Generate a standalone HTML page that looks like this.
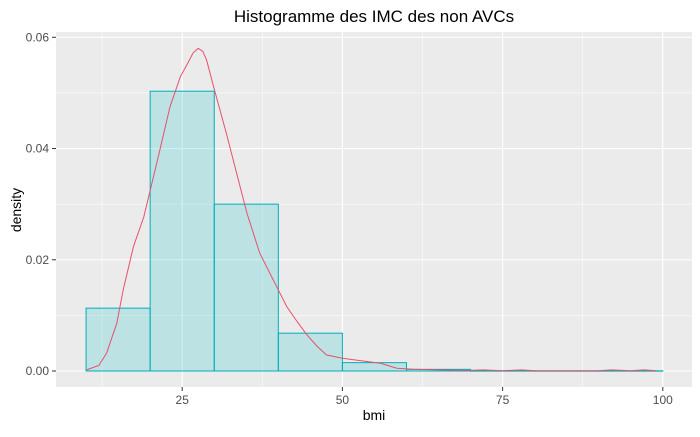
<!DOCTYPE html>
<html><head><meta charset="utf-8"><style>
body{margin:0;background:#fff;font-family:"Liberation Sans",sans-serif}
</style></head><body>
<svg id="chart" width="700" height="432" xmlns="http://www.w3.org/2000/svg">
<text x="374" y="22" text-anchor="middle" font-size="17" fill="#000">Histogramme des IMC des non AVCs</text>
<rect x="56" y="32" width="636" height="355" fill="#EBEBEB"/>
<g id="grid"></g>
<g id="bars"></g>
<path id="dens" fill="none" stroke="#E8506A" stroke-width="1"/>
<g id="axes" font-size="12" fill="#4D4D4D"></g>
<text x="374" y="420" text-anchor="middle" font-size="14">bmi</text>
<text transform="translate(21,210) rotate(-90)" text-anchor="middle" font-size="14">density</text>
</svg>
<script>
const binStarts=[10,20,30,40,50,60,70,80,90];
const binDensity=[0.0113,0.0503,0.030,0.0068,0.0015,0.0003,0.00003,0.00002,0.00003];
const densX=[10.1,12,13.2,14.8,15.8,17.4,19.0,20.0,21.5,23.1,24.7,25.7,26.7,27.5,28.2,28.8,29.9,31.9,33.5,35.1,37.1,39.2,41.3,43,44.4,46,47.5,50,53.8,55.9,58.5,61,65,70,72,75,78,80,85,90,92,95,97,99];
const densY=[0.0002,0.001,0.0032,0.0086,0.0146,0.0224,0.0277,0.0325,0.0397,0.0475,0.0529,0.055,0.0572,0.058,0.0575,0.0559,0.0511,0.0427,0.0355,0.0284,0.0212,0.0164,0.0116,0.0088,0.0066,0.0045,0.0029,0.0023,0.0017,0.0014,0.0005,0.0003,0.0002,0.0001,0.0002,0.00005,0.0002,0.00005,0.00003,0.00005,0.0002,0.00003,0.0002,0.00003];
const xTicks=[25,50,75,100];
const yTicks=[0,0.02,0.04,0.06];
const binW=10;
const sx=v=>22+v*6.408;
const sy=v=>371-v*5562;
const NS="http://www.w3.org/2000/svg";
const mk=(t,a,p)=>{const e=document.createElementNS(NS,t);for(const k in a)e.setAttribute(k,a[k]);p.appendChild(e);return e;};
const grid=document.getElementById('grid');
[12.5,37.5,62.5,87.5].forEach(v=>{const l=mk('line',{x1:sx(v),x2:sx(v),y1:32,y2:387,stroke:'#fff','stroke-width':0.5},grid);

});
[0.01,0.03,0.05].forEach(v=>{const l=mk('line',{y1:sy(v),y2:sy(v),x1:56,x2:692,stroke:'#fff','stroke-width':0.5},grid);

});
xTicks.forEach(v=>{const l=mk('line',{x1:sx(v),x2:sx(v),y1:32,y2:387,stroke:'#fff','stroke-width':1.1},grid);

});
yTicks.forEach(v=>{const l=mk('line',{y1:sy(v),y2:sy(v),x1:56,x2:692,stroke:'#fff','stroke-width':1.1},grid);

});
const bars=document.getElementById('bars');
binStarts.forEach((b,i)=>{const y=sy(binDensity[i]);
const r=mk('rect',{x:sx(b),y:y,width:sx(b+binW)-sx(b),height:Math.max(sy(0)-y,0.3),fill:'rgba(0,191,196,0.2)',stroke:'#00AFBB','stroke-width':1},bars);

});
document.getElementById('dens').setAttribute('d',densX.map((x,i)=>(i?'L':'M')+sx(x).toFixed(1)+','+sy(densY[i]).toFixed(1)).join(''));
const ax=document.getElementById('axes');
xTicks.forEach(v=>{const l=mk('line',{x1:sx(v),x2:sx(v),y1:387,y2:391,stroke:'#333'},ax);


const t=mk('text',{x:sx(v),y:404,'text-anchor':'middle'},ax);t.textContent=v;

});
yTicks.forEach(v=>{const l=mk('line',{x1:52,x2:56,y1:sy(v),y2:sy(v),stroke:'#333'},ax);


const t=mk('text',{x:49,y:sy(v)+4,'text-anchor':'end'},ax);t.textContent=v.toFixed(2);

});
</script>
</body></html>
